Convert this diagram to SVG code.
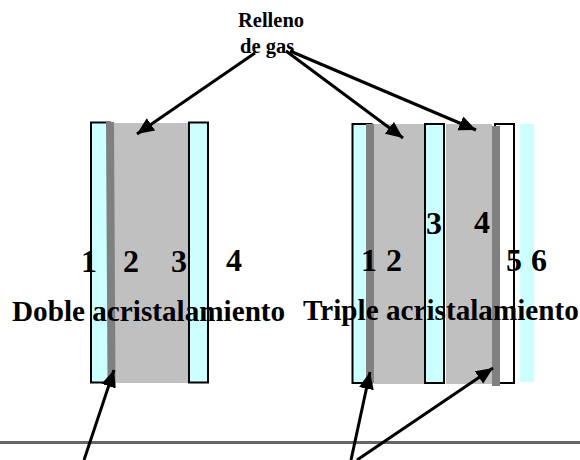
<svg xmlns="http://www.w3.org/2000/svg" width="580" height="460" viewBox="0 0 580 460">
<defs>
<marker id="ah" markerUnits="userSpaceOnUse" markerWidth="20" markerHeight="18" refX="17" refY="7.500" orient="auto"><path d="M0 0L17 7.500L0 15Z" fill="#000"/></marker>
<style>
text{font-family:"Liberation Serif","Times New Roman",serif;font-weight:bold;fill:#000}
.n{font-size:32px}
.t{font-size:29.200px}
.s{font-size:20.500px}
.g{fill:#c0c0c0}
.f{fill:#808080}
.p{fill:#ccffff;stroke:#000;stroke-width:2}
.c{stroke:#000;stroke-width:3;fill:none;marker-end:url(#ah)}
</style>
</defs>
<g id="double-glazing">
<rect class="p" x="91" y="122.500" width="19" height="260"/>
<rect class="g" x="111" y="123" width="78" height="260"/>
<polygon class="f" points="106,122 114,122 115.500,385 107.500,383"/>
<rect class="p" x="189" y="122.500" width="19" height="260"/>
</g>
<g id="triple-glazing">
<rect class="p" x="352.500" y="124" width="19" height="259"/>
<rect class="g" x="374" y="124" width="50" height="260"/>
<rect class="f" x="366" y="124" width="8" height="259"/>
<rect class="p" x="425" y="124" width="19" height="259"/>
<rect class="g" x="446" y="124" width="46" height="260"/>
<rect x="495" y="124" width="19" height="259" fill="#fff" stroke="#000" stroke-width="2"/>
<rect class="f" x="492" y="126" width="8" height="260"/>
<rect x="520" y="124" width="14" height="258" fill="#ccffff"/>
</g>
<g id="divider"><rect x="0" y="441" width="580" height="3" fill="#666"/></g>
<g id="labels">
<text class="s" x="238" y="27">Relleno</text>
<text class="s" x="240" y="53">de gas</text>
<text class="n" x="81" y="272">1</text>
<text class="n" x="123" y="272">2</text>
<text class="n" x="171" y="272">3</text>
<text class="n" x="226" y="271">4</text>
<text class="n" x="361" y="271">1</text>
<text class="n" x="386" y="271">2</text>
<text class="n" x="426" y="234">3</text>
<text class="n" x="474" y="233">4</text>
<text class="n" x="506" y="271">5</text>
<text class="n" x="531" y="271">6</text>
<text class="t" x="12" y="321">Doble acristalamiento</text>
<text class="t" x="303" y="320">Triple acristalamiento</text>
</g>
<g id="connectors">
<line class="c" x1="255" y1="53" x2="137" y2="134"/>
<line class="c" x1="286" y1="51" x2="403" y2="138"/>
<line class="c" x1="290" y1="51" x2="476" y2="130"/>
<line class="c" x1="84" y1="460" x2="114" y2="370"/>
<line class="c" x1="351" y1="460" x2="370" y2="372"/>
<line class="c" x1="357" y1="460" x2="493" y2="368"/>
</g>
</svg>
